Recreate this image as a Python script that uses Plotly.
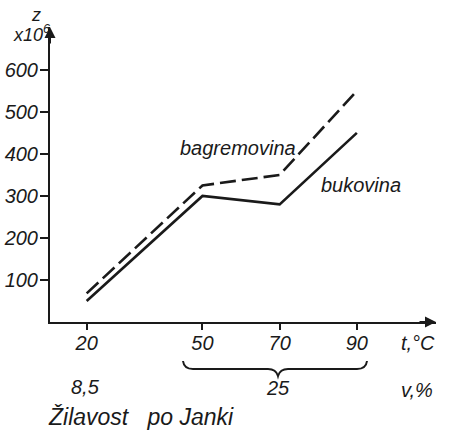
import plotly.graph_objects as go

# ---- data ----
temps = [20, 50, 70, 90]
bukovina = [50, 300, 280, 450]
bagremovina = [68, 325, 350, 550]
y_ticks = [100, 200, 300, 400, 500, 600]
x_ticks = [20, 50, 70, 90]
x_tick_labels = ["20", "50", "70", "90"]

# ---- layout geometry (pixels) ----
W, H = 449, 432
L, R, T, B = 50, 436, 27, 322
PW, PH = R - L, B - T


def px(xp):
    return (xp - L) / PW


def py(yp):
    return (B - yp) / PH


INK = "#1a1a1a"
FONT = "Liberation Sans"
fnt = dict(family=FONT, size=20, color=INK, style="italic")

fig = go.Figure()
fig.add_trace(go.Scatter(x=temps, y=bukovina, mode="lines",
                         line=dict(color=INK, width=2.6), name="bukovina",
                         showlegend=False))
fig.add_trace(go.Scatter(x=temps, y=bagremovina, mode="lines",
                         line=dict(color=INK, width=2.6, dash="16px,6px"),
                         name="bagremovina", showlegend=False))

ann = []


def text(xp, yp, s, size=20, xanchor="center"):
    ann.append(dict(x=px(xp), y=py(yp), xref="paper", yref="paper", text=s,
                    showarrow=False, xanchor=xanchor, yanchor="middle",
                    font=dict(family=FONT, size=size, color=INK, style="italic")))


text(238, 148, "bagremovina")
text(361, 185, "bukovina")
text(418, 343, "t,°C")
text(85, 387, "8,5")
text(278, 388, "25")
text(417, 390, "v,%")
text(46, 417, "Žilavost\u00a0\u00a0\u00a0po Janki", size=23, xanchor="left")
text(36, 15, "z", size=18)
text(31, 34, "x10<sup>6</sup>", size=18)

# axis arrows
ann.append(dict(x=0, y=1, xref="paper", yref="paper", ax=0, ay=18,
                showarrow=True, arrowhead=2, arrowsize=1.1, arrowwidth=2,
                arrowcolor=INK, text="", standoff=0))
ann.append(dict(x=1, y=0, xref="paper", yref="paper", ax=-18, ay=0,
                showarrow=True, arrowhead=2, arrowsize=1.1, arrowwidth=2,
                arrowcolor=INK, text="", standoff=0))

# brace under 50..90
pts = [(183, 361), (184, 369), (193, 369), (268, 369), (276, 369), (278, 376),
       (280, 369), (288, 369), (357, 369), (366, 369), (367, 361)]
P = [(px(a), py(b)) for a, b in pts]
path = (f"M {P[0][0]},{P[0][1]} Q {P[1][0]},{P[1][1]} {P[2][0]},{P[2][1]} "
        f"L {P[3][0]},{P[3][1]} Q {P[4][0]},{P[4][1]} {P[5][0]},{P[5][1]} "
        f"Q {P[6][0]},{P[6][1]} {P[7][0]},{P[7][1]} "
        f"L {P[8][0]},{P[8][1]} Q {P[9][0]},{P[9][1]} {P[10][0]},{P[10][1]}")
shapes = [dict(type="path", path=path, xref="paper", yref="paper",
               line=dict(color=INK, width=2))]

fig.update_layout(
    width=W, height=H,
    margin=dict(l=L, r=W - R, t=T, b=H - B, pad=0, autoexpand=False),
    paper_bgcolor="white", plot_bgcolor="white",
    annotations=ann, shapes=shapes,
    xaxis=dict(range=[10.5, 110.5], tickvals=x_ticks, ticktext=x_tick_labels,
               ticks="outside", ticklen=6, tickwidth=2, tickcolor=INK,
               showline=True, linecolor=INK, linewidth=2,
               showgrid=False, zeroline=False, tickfont=fnt,
               ticklabelstandoff=-4),
    yaxis=dict(range=[0, 702], tickvals=y_ticks,
               ticks="outside", ticklen=8, tickwidth=2, tickcolor=INK,
               showline=True, linecolor=INK, linewidth=2,
               showgrid=False, zeroline=False, tickfont=fnt,
               ticklabelstandoff=-2),
)

fig.write_html("out.html",
               config={"displayModeBar": False},
               post_script="document.body.style.margin='0';"
                           "document.body.style.overflow='hidden';")
